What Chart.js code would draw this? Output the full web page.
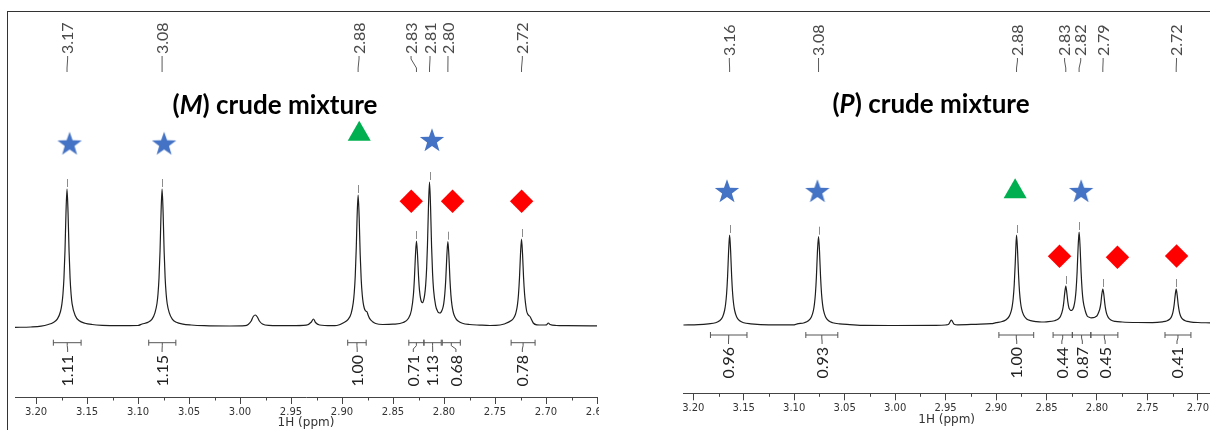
<!DOCTYPE html>
<html>
<head>
<meta charset="utf-8">
<script src="https://cdn.jsdelivr.net/npm/chart.js@4.4.1/dist/chart.umd.min.js"></script>
<style>
  html, body { margin: 0; padding: 0; background: #fff; }
  #page { position: relative; width: 1210px; height: 430px; overflow: hidden; }
  #frame { position: absolute; left: 7px; top: 11px; width: 1210px; height: 430px;
           border-top: 1px solid #333; border-left: 1px solid #333; }
  canvas { position: absolute; top: 0; }
  .title { position: absolute; font: bold 26px Lato, sans-serif; color: #000;
           white-space: nowrap; transform: translate(-50%, -50%); }
</style>
</head>
<body>
<div id="page">
  <div id="frame"></div>
  <canvas id="specM" width="599" height="430" style="left:0"></canvas>
  <canvas id="specP" width="605" height="430" style="left:605px"></canvas>
  <div class="title" style="left:275px; top:104px">(<i>M</i>) crude mixture</div>
  <div class="title" style="left:931px; top:103px">(<i>P</i>) crude mixture</div>
</div>
<script>
// ---- (M) crude mixture: [shift ppm, intensity] ----
const mSpectrum = [
  [3.221, -1.3], [3.205, -1.0], [3.195, -0.2], [3.188, 1.5], [3.183, 3.6], [3.179, 7.1],
  [3.176, 14.5], [3.1746, 22.2], [3.1736, 31.8], [3.1726, 48], [3.1716, 75], [3.1706, 113.6],
  [3.1696, 137], [3.1686, 113.6], [3.1676, 75], [3.1666, 48], [3.1656, 31.8], [3.1646, 22.2],
  [3.1616, 10.5], [3.1576, 5.2], [3.152, 2.8], [3.145, 1.5], [3.135, 0.7], [3.12, 0.3],
  [3.10, 0.5], [3.096, 2], [3.0904, 3.6], [3.0864, 6.6], [3.0834, 13.2], [3.0814, 22.5],
  [3.0804, 32], [3.0794, 48], [3.0784, 75], [3.0774, 113.6], [3.0764, 137], [3.0754, 113.6],
  [3.0744, 75], [3.0734, 48], [3.0724, 32], [3.0714, 22.5], [3.0694, 13.3], [3.0664, 6.8],
  [3.0624, 3.7], [3.056, 1.9], [3.048, 1.0], [3.035, 0.3], [3.01, 0], [2.995, 0.3],
  [2.992, 1.5], [2.989, 5], [2.987, 9.5], [2.985, 11], [2.983, 9], [2.981, 5], [2.978, 2],
  [2.972, 0.6], [2.950, 0.3], [2.935, 0.8], [2.930, 4], [2.928, 7], [2.926, 3.5], [2.922, 1],
  [2.910, 0.3], [2.905, 0.5], [2.898, 3.5], [2.894, 6.6], [2.891, 12.7], [2.889, 23.1],
  [2.888, 33.2], [2.887, 50.3], [2.886, 78.8], [2.8852, 109], [2.8842, 131], [2.8832, 109.4],
  [2.8822, 72.6], [2.8812, 46.9], [2.8802, 31.7], [2.8792, 22.9], [2.8782, 18], [2.8772, 15.5],
  [2.8762, 14.6], [2.8755, 14.2], [2.8745, 11.2], [2.873, 7.6], [2.870, 4.3], [2.867, 2.5],
  [2.860, 1.5], [2.850, 1.8], [2.840, 3.5], [2.835, 7.5], [2.832, 15.5], [2.830, 31.3],
  [2.829, 47.6], [2.828, 70.7], [2.827, 85], [2.826, 71.9], [2.825, 50.3], [2.824, 35.4],
  [2.822, 24], [2.821, 23.4], [2.820, 25.7], [2.819, 30.8], [2.818, 40.6], [2.817, 58.2],
  [2.8162, 81.2], [2.8152, 120.2], [2.8142, 144], [2.8132, 119.9], [2.8122, 80.3], [2.8112, 52.4],
  [2.8102, 35.9], [2.8082, 20.4], [2.8062, 14.6], [2.805, 13.2], [2.804, 13.0], [2.803, 13.6],
  [2.8012, 17.8], [2.8002, 22.9], [2.7992, 32.2], [2.7982, 47.9], [2.7972, 70.6], [2.7962, 84.3],
  [2.7952, 70.2], [2.7942, 46.9], [2.7932, 30.6], [2.7922, 20.8], [2.7912, 15], [2.7902, 11.3],
  [2.7882, 7.1], [2.7862, 5], [2.782, 2.8], [2.775, 1.5], [2.765, 0.9], [2.755, 0.5],
  [2.745, 1.0], [2.741, 2.0], [2.734, 5.4], [2.732, 7.5], [2.730, 11.5], [2.729, 15.3],
  [2.728, 21.2], [2.727, 31.3], [2.726, 48.1], [2.725, 72], [2.724, 87], [2.723, 72],
  [2.722, 48.5], [2.721, 32], [2.720, 22], [2.719, 15], [2.718, 12], [2.7168, 10.5],
  [2.7157, 9.5], [2.7145, 7], [2.7125, 3], [2.709, 1.2], [2.703, 1.0], [2.6995, 1.2],
  [2.6977, 3], [2.696, 1.5], [2.690, 0.5], [2.680, 0.3], [2.650, 0.2]
];
const mPeaks = [3.1696, 3.0764, 2.8842, 2.8270, 2.8142, 2.7962, 2.7240];
const mPeakLabelAt = [3.1690, 3.0764, 2.8833, 2.8323, 2.8137, 2.7961, 2.7232];
const mIntFrom = [3.1830, 3.0895, 2.8944, 2.8345, 2.8197, 2.8017, 2.7342];
const mIntTo = [3.1558, 3.0629, 2.8763, 2.8197, 2.8027, 2.7840, 2.7107];
const mIntValue = [1.11, 1.15, 1.00, 0.71, 1.13, 0.68, 0.78];
const mIntLabelAt = [3.1690, 3.0764, 2.8851, 2.8301, 2.8111, 2.7883, 2.7232];
const mMarkShift = [3.1671, 3.0744, 2.8831, 2.8118, 2.8321, 2.7916, 2.7239];
const mMarkLevel = [181.5, 181.5, 192, 185, 124.7, 124.7, 124.7];
const mMarkKind = ['star', 'star', 'triangle', 'star', 'diamond', 'diamond', 'diamond'];

// ---- (P) crude mixture ----
const pSpectrum = [
  [3.210, -1.0], [3.195, -0.6], [3.185, 0.2], [3.178, 1.2], [3.174, 3.2], [3.171, 7],
  [3.169, 13.5], [3.168, 19.7], [3.167, 30.3], [3.166, 47.9], [3.165, 72.9], [3.164, 89],
  [3.163, 72.9], [3.162, 47.9], [3.161, 30.3], [3.160, 19.7], [3.159, 13.5], [3.157, 7],
  [3.154, 3.2], [3.150, 1.2], [3.143, 0.2], [3.125, -0.8], [3.100, -0.8], [3.097, 0.1],
  [3.090, 1.3], [3.086, 3.3], [3.083, 7.1], [3.081, 13.4], [3.080, 19.6], [3.079, 30],
  [3.078, 47.4], [3.077, 72], [3.0759, 87.3], [3.0749, 72], [3.0739, 47.4], [3.0729, 30],
  [3.0719, 19.6], [3.0709, 13.4], [3.0689, 7.1], [3.0659, 3.3], [3.0619, 1.3], [3.055, 0.1],
  [3.045, -0.6], [3.030, -1.4], [3.000, -1.5], [2.960, -1.3], [2.950, -1.0], [2.947, -0.3],
  [2.9443, 3.8], [2.9415, -0.2], [2.938, -0.8], [2.920, -0.3], [2.905, 0.3], [2.900, 1.3],
  [2.894, 2.5], [2.890, 4.3], [2.887, 7.6], [2.885, 12.8], [2.884, 17.6], [2.883, 25.5],
  [2.882, 39], [2.881, 60.6], [2.8805, 73.5], [2.8797, 89], [2.8787, 73.5], [2.8777, 49],
  [2.8767, 31.6], [2.8757, 21.2], [2.8747, 15.1], [2.8727, 8.9], [2.8697, 5.0], [2.8657, 3.4],
  [2.860, 2.4], [2.855, 2.0], [2.850, 2.2], [2.842, 3.3], [2.838, 5.3], [2.836, 7.9],
  [2.834, 14.3], [2.833, 20.9], [2.832, 30.6], [2.8309, 38], [2.8299, 31.3], [2.8289, 22.4],
  [2.8279, 16.7], [2.8269, 14.5], [2.8259, 13.5], [2.8249, 13.7], [2.8239, 14.8], [2.8229, 17.5],
  [2.8217, 24], [2.8207, 34.1], [2.8197, 51.5], [2.8187, 76.5], [2.8177, 92], [2.8167, 76.6],
  [2.8157, 51.4], [2.8147, 33.6], [2.8137, 23.1], [2.8117, 13.5], [2.8097, 8], [2.8077, 6.8],
  [2.8057, 6.2], [2.8037, 6.3], [2.8017, 7], [2.7997, 8.7], [2.7982, 12], [2.7972, 15],
  [2.7962, 20.4], [2.7952, 29.6], [2.7942, 35], [2.7932, 29.5], [2.7922, 20.2], [2.7912, 13.6],
  [2.7902, 9.6], [2.7887, 6.4], [2.7862, 4], [2.782, 2.6], [2.775, 2.0], [2.760, 1.5],
  [2.745, 1.4], [2.735, 2.2], [2.731, 3.0], [2.728, 4.7], [2.7265, 6.6], [2.7255, 9],
  [2.7245, 12.9], [2.7235, 19.4], [2.7225, 28.7], [2.7215, 35], [2.7205, 28.7], [2.7195, 19.4],
  [2.7185, 12.9], [2.7175, 9], [2.7165, 6.6], [2.715, 4.7], [2.712, 3.0], [2.708, 2.2],
  [2.700, 1.5], [2.688, 1.2]
];
const pPeaks = [3.1640, 3.0759, 2.8797, 2.8309, 2.8177, 2.7942, 2.7215];
const pPeakLabelAt = [3.1643, 3.0759, 2.8788, 2.8321, 2.8161, 2.7939, 2.7212];
const pIntFrom = [3.1830, 3.0885, 2.8972, 2.8435, 2.8244, 2.8061, 2.7326];
const pIntTo = [3.1468, 3.0568, 2.8627, 2.8244, 2.8061, 2.7793, 2.7069];
const pIntValue = [0.96, 0.93, 1.00, 0.44, 0.87, 0.45, 0.41];
const pIntLabelAt = [3.1651, 3.0724, 2.8795, 2.8348, 2.8145, 2.7919, 2.7207];
const pMarkShift = [3.1666, 3.0770, 2.8811, 2.8157, 2.8371, 2.7797, 2.7211];
const pMarkLevel = [132, 132, 132.4, 132, 67.8, 66.7, 68];
const pMarkKind = ['star', 'star', 'triangle', 'star', 'diamond', 'diamond', 'diamond'];

const markColor = { star: '#4472C4', triangle: '#00B050', diamond: '#FF0000' };

// filled five-point star used as a point style
function starImage(color, R) {
  const c = document.createElement('canvas');
  const s = Math.ceil(R * 2 + 2);
  c.width = c.height = s;
  const g = c.getContext('2d');
  g.fillStyle = color;
  g.beginPath();
  for (let i = 0; i < 10; i++) {
    const r = i % 2 ? R * 0.4 : R;
    const a = -Math.PI / 2 + i * Math.PI / 5;
    g.lineTo(s / 2 + r * Math.cos(a), s / 2 + r * Math.sin(a));
  }
  g.closePath();
  g.fill();
  return c;
}
const star = starImage(markColor.star, 12.8);

// peak picks, integral brackets and minor ticks
function nmrMarks(cfg) {
  return {
    id: 'nmrMarks',
    afterDraw(chart) {
      const { ctx, chartArea } = chart;
      const x = chart.scales.x, y = chart.scales.y;
      ctx.save();

      // minor ticks halfway between labelled ones
      ctx.strokeStyle = '#444';
      ctx.lineWidth = 1;
      for (let k = 0; k < 14; k++) {
        const px = Math.round(x.getPixelForValue(2.575 + 0.05 * k)) + 0.5;
        if (px < chartArea.left || px > chartArea.right) continue;
        ctx.beginPath();
        ctx.moveTo(px, chartArea.bottom);
        ctx.lineTo(px, chartArea.bottom + 3.5);
        ctx.stroke();
      }

      // small marks above each picked peak
      ctx.strokeStyle = '#8c8c8c';
      cfg.peaks.forEach(p => {
        let top = -Infinity;
        cfg.spectrum.forEach(([s, v]) => { if (Math.abs(s - p) < 0.0012) top = Math.max(top, v); });
        const px = Math.round(x.getPixelForValue(p)) + 0.5;
        const py = y.getPixelForValue(top);
        ctx.beginPath();
        ctx.moveTo(px, py - 2);
        ctx.lineTo(px, py - 10);
        ctx.stroke();
      });

      // peak labels along the top
      ctx.font = '16px Lato, sans-serif';
      ctx.textBaseline = 'middle';
      cfg.peaks.forEach((p, i) => {
        const tx = x.getPixelForValue(cfg.peakLabelAt[i]);
        const px = x.getPixelForValue(p);
        ctx.strokeStyle = '#5a5a5a';
        ctx.beginPath();
        ctx.moveTo(tx, cfg.lineTop);
        ctx.lineTo(tx, cfg.lineTop + 3);
        ctx.lineTo(px, cfg.lineBottom - 4);
        ctx.lineTo(px, cfg.lineBottom);
        ctx.stroke();
        ctx.save();
        ctx.translate(tx + 0.5, cfg.textBottom);
        ctx.rotate(-Math.PI / 2);
        ctx.fillStyle = '#4a4a4a';
        ctx.textAlign = 'left';
        ctx.fillText(p.toFixed(2), 0, 0);
        ctx.restore();
      });

      // integral brackets and values
      cfg.intFrom.forEach((a, i) => {
        const x1 = x.getPixelForValue(a);
        const x2 = x.getPixelForValue(cfg.intTo[i]);
        const cx = (x1 + x2) / 2;
        const tx = x.getPixelForValue(cfg.intLabelAt[i]);
        const by = cfg.bracketY;
        ctx.strokeStyle = '#555';
        ctx.beginPath();
        ctx.moveTo(x1, by); ctx.lineTo(x2, by);
        ctx.moveTo(x1, by - 3); ctx.lineTo(x1, by + 3);
        ctx.moveTo(x2, by - 3); ctx.lineTo(x2, by + 3);
        ctx.moveTo(cx, by);
        ctx.lineTo(cx, by + 3);
        ctx.lineTo(tx, cfg.tickEnd - 3);
        ctx.lineTo(tx, cfg.tickEnd);
        ctx.stroke();
        ctx.save();
        ctx.translate(tx + 0.5, cfg.textTop);
        ctx.rotate(-Math.PI / 2);
        ctx.fillStyle = '#222';
        ctx.textAlign = 'right';
        ctx.fillText(cfg.intValue[i].toFixed(2), 0, 0);
        ctx.restore();
      });
      ctx.restore();
    }
  };
}

function buildSpectrum(id, cfg) {
  const line = cfg.spectrum.map(([s, v]) => ({ x: s, y: v }));
  const marks = cfg.markShift.map((s, i) => ({ x: s, y: cfg.markLevel[i] }));
  return new Chart(document.getElementById(id), {
    type: 'line',
    data: {
      datasets: [
        {
          data: line,
          borderColor: '#1e1e1e',
          borderWidth: 1.2,
          pointRadius: 0,
          cubicInterpolationMode: 'monotone',
          fill: false
        },
        {
          type: 'scatter',
          data: marks,
          pointStyle: cfg.markKind.map(k => k === 'star' ? star : (k === 'triangle' ? 'triangle' : 'rectRot')),
          pointRadius: cfg.markKind.map(k => k === 'triangle' ? 13.3 : 11.7),
          backgroundColor: cfg.markKind.map(k => markColor[k]),
          borderWidth: 0
        }
      ]
    },
    options: {
      responsive: false,
      animation: false,
      events: [],
      devicePixelRatio: 1,
      layout: { padding: cfg.padding, autoPadding: false },
      plugins: { legend: { display: false }, tooltip: { enabled: false } },
      scales: {
        x: {
          type: 'linear',
          reverse: true,
          min: cfg.xMin,
          max: cfg.xMax,
          afterFit(scale) {
            scale.height = cfg.axisHeight;
            scale.paddingLeft = 0;
            scale.paddingRight = 0;
          },
          border: { display: true, color: '#444', width: 1 },
          grid: { display: true, drawOnChartArea: false, drawTicks: true, tickLength: 7, color: '#444' },
          ticks: {
            stepSize: 0.05,
            includeBounds: false,
            autoSkip: false,
            maxRotation: 0,
            padding: cfg.tickPad,
            color: '#333',
            font: { family: 'DejaVu Sans', size: 10 },
            callback: v => v.toFixed(2)
          },
          title: {
            display: true,
            text: '1H (ppm)',
            color: '#333',
            padding: { top: 0, bottom: cfg.titlePad },
            font: { family: 'DejaVu Sans', size: 12 }
          }
        },
        y: { type: 'linear', display: false, min: cfg.yMin, max: cfg.yMax }
      }
    },
    plugins: [nmrMarks(cfg)]
  });
}

buildSpectrum('specM', {
  spectrum: mSpectrum, peaks: mPeaks, peakLabelAt: mPeakLabelAt,
  intFrom: mIntFrom, intTo: mIntTo, intValue: mIntValue, intLabelAt: mIntLabelAt,
  markShift: mMarkShift, markLevel: mMarkLevel, markKind: mMarkKind,
  xMin: 2.65, xMax: 3.2206, yMin: -71, yMax: 315,
  padding: { left: 15, right: 2, top: 11, bottom: 0 },
  axisHeight: 33, tickPad: 2.5, titlePad: 0,
  textBottom: 54, lineTop: 56, lineBottom: 72,
  bracketY: 342.7, tickEnd: 352, textTop: 355
});

buildSpectrum('specP', {
  spectrum: pSpectrum, peaks: pPeaks, peakLabelAt: pPeakLabelAt,
  intFrom: pIntFrom, intTo: pIntTo, intValue: pIntValue, intLabelAt: pIntLabelAt,
  markShift: pMarkShift, markLevel: pMarkLevel, markKind: pMarkKind,
  xMin: 2.688, xMax: 3.2099, yMin: -69.3, yMax: 313,
  padding: { left: 78.3, right: 0, top: 11, bottom: 0 },
  axisHeight: 36.7, tickPad: 2.2, titlePad: 2.8,
  textBottom: 56, lineTop: 58, lineBottom: 72,
  bracketY: 335, tickEnd: 344, textTop: 347
});
</script>
</body>
</html>
